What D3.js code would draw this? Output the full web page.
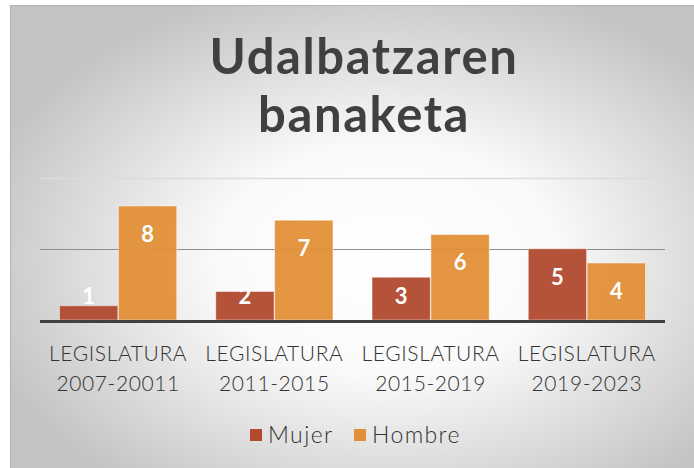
<!DOCTYPE html>
<html>
<head>
<meta charset="utf-8">
<script src="https://cdn.jsdelivr.net/npm/d3@7"></script>
<style>
  body { margin: 0; background: #fff; }
  svg { display: block; }
</style>
</head>
<body>
<div id="chart"></div>
<script>
const categoryLines = [
    ["LEGISLATURA", "2007-20011"],
    ["LEGISLATURA", "2011-2015"],
    ["LEGISLATURA", "2015-2019"],
    ["LEGISLATURA", "2019-2023"]
];
const seriesNames = ["Mujer", "Hombre"];
const mujer = [1, 2, 3, 5];
const hombre = [8, 7, 6, 4];
const yTicks = [0, 5, 10];
const titleLines = ["Udalbatzaren", "banaketa"];

const colors = { Mujer: "#b14a2f", Hombre: "#e28f38" };

const width = 694;
const height = 468;
const plotLeft = 40;
const plotRight = 665;
const plotBottom = 320;
const plotTop = 177.5;
const fontFamily = "'Century Gothic', Lato, 'DejaVu Sans', sans-serif";

const svg = d3.select("#chart")
    .append("svg")
    .attr("width", width)
    .attr("height", height);

const defs = svg.append("defs");
const grad = defs.append("radialGradient")
    .attr("id", "bg")
    .attr("cx", "55%").attr("cy", "55%").attr("r", "62%");
grad.append("stop").attr("offset", "0%").attr("stop-color", "#ffffff");
grad.append("stop").attr("offset", "40%").attr("stop-color", "#fafafa");
grad.append("stop").attr("offset", "100%").attr("stop-color", "#c3c3c3");

svg.append("rect")
    .attr("x", 10).attr("y", 5)
    .attr("width", width - 10).attr("height", height - 5)
    .attr("fill", "url(#bg)");
svg.append("path")
    .attr("d", `M10.5,${height}V5.5H${width}`)
    .attr("fill", "none")
    .attr("stroke", "#b4b4b4");

// title
svg.append("g")
    .selectAll("text")
    .data(titleLines)
    .join("text")
    .attr("x", 364)
    .attr("y", (d, i) => 74 + i * 57.5)
    .attr("text-anchor", "middle")
    .attr("font-family", fontFamily)
    .attr("font-weight", "bold")
    .attr("font-size", 49)
    .attr("letter-spacing", 1.6)
    .attr("fill", "#404040")
    .text(d => d);

const categories = categoryLines.map(d => d.join(" "));
const series = categories.map((c, i) => ({ cat: c, Mujer: mujer[i], Hombre: hombre[i] }));

const x0 = d3.scaleBand()
    .domain(categories)
    .range([plotLeft, plotRight])
    .paddingInner(0.25)
    .paddingOuter(0.125);

const x1 = d3.scaleBand()
    .domain(seriesNames)
    .range([0, x0.bandwidth()])
    .paddingInner(0.01);

const y = d3.scaleLinear()
    .domain([0, 10])
    .range([plotBottom, plotTop]);

// gridlines
svg.append("g")
    .selectAll("line")
    .data(yTicks.filter(t => t > 0))
    .join("line")
    .attr("x1", plotLeft).attr("x2", plotRight)
    .attr("y1", d => Math.round(y(d)) + 0.5)
    .attr("y2", d => Math.round(y(d)) + 0.5)
    .attr("stroke", d => d === 10 ? "#dcdcdc" : "#8e8e8e")
    .attr("stroke-width", d => d === 10 ? 1.5 : 1.2);

// bars
const groups = svg.append("g")
    .selectAll("g")
    .data(series)
    .join("g")
    .attr("transform", d => `translate(${x0(d.cat)},0)`);

groups.selectAll("rect")
    .data(d => seriesNames.map(k => ({ key: k, value: d[k] })))
    .join("rect")
    .attr("x", d => x1(d.key))
    .attr("y", d => y(d.value))
    .attr("width", x1.bandwidth())
    .attr("height", d => y(0) - y(d.value))
    .attr("fill", d => colors[d.key])
    .attr("fill-opacity", 0.95)
    .attr("stroke", "#ffffff")
    .attr("stroke-opacity", 0.45)
    .attr("stroke-width", 1);

groups.selectAll("text")
    .data(d => seriesNames.map(k => ({ key: k, value: d[k] })))
    .join("text")
    .attr("x", d => x1(d.key) + x1.bandwidth() / 2)
    .attr("y", d => Math.min(y(d.value) + 28, y(0) - 24))
    .attr("dy", "0.36em")
    .attr("text-anchor", "middle")
    .attr("font-family", fontFamily)
    .attr("font-weight", "bold")
    .attr("font-size", 22)
    .attr("fill", "#ffffff")
    .text(d => d.value);

// baseline
svg.append("line")
    .attr("x1", plotLeft).attr("x2", plotRight)
    .attr("y1", y(0) + 1.5).attr("y2", y(0) + 1.5)
    .attr("stroke", "#404040")
    .attr("stroke-width", 3);

// x axis labels
const xAxis = svg.append("g")
    .attr("transform", `translate(0,${plotBottom + 3})`)
    .call(d3.axisBottom(x0).tickSize(0).tickFormat(""));
xAxis.select(".domain").remove();
xAxis.selectAll(".tick").each(function(d, i) {
    d3.select(this).append("text")
        .selectAll("tspan")
        .data(categoryLines[i])
        .join("tspan")
        .attr("x", 0)
        .attr("y", (t, j) => 38 + j * 29.5)
        .attr("text-anchor", "middle")
        .attr("font-family", fontFamily)
        .attr("font-weight", 300)
        .attr("font-size", 21)
        .attr("letter-spacing", 0.6)
        .attr("fill", "#333333")
        .text(t => t);
});

// legend
const legendItems = [
    { key: "Mujer", x: 250 },
    { key: "Hombre", x: 354 }
];
const legend = svg.append("g")
    .selectAll("g")
    .data(legendItems)
    .join("g")
    .attr("transform", d => `translate(${d.x},429)`);
legend.append("rect")
    .attr("width", 12).attr("height", 12)
    .attr("fill", d => colors[d.key]);
legend.append("text")
    .attr("x", 18)
    .attr("y", 14)
    .attr("font-family", fontFamily)
    .attr("font-weight", 300)
    .attr("font-size", 23)
    .attr("letter-spacing", 1.4)
    .attr("fill", "#333333")
    .text(d => d.key);
</script>
</body>
</html>
